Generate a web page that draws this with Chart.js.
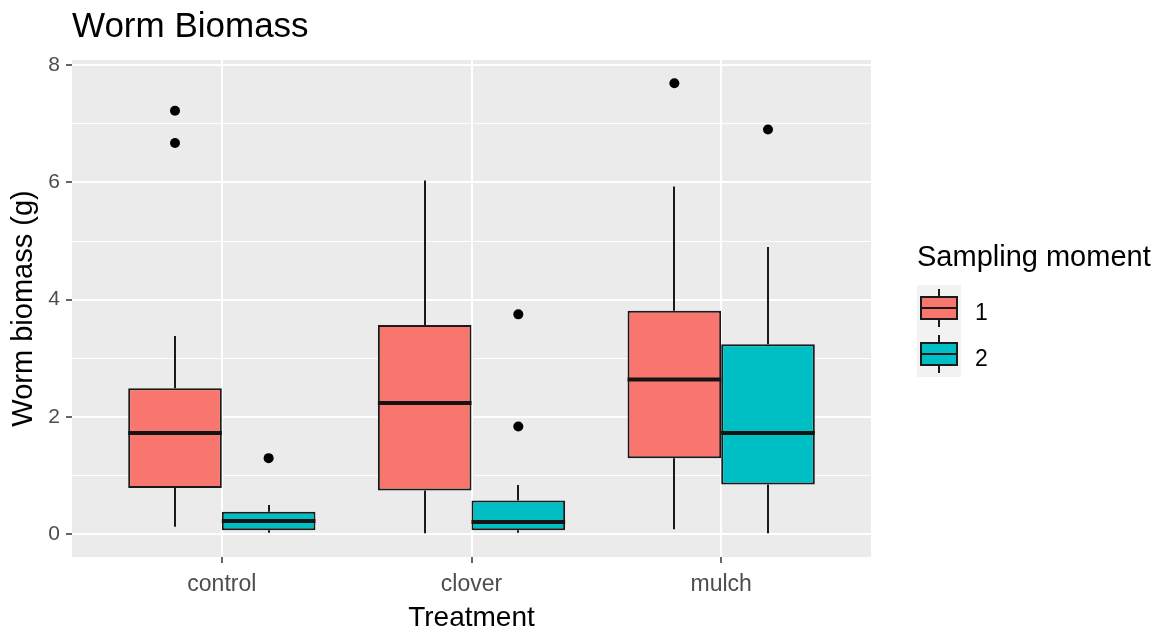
<!DOCTYPE html>
<html>
<head>
<meta charset="utf-8">
<title>Worm Biomass</title>
<script src="https://cdn.jsdelivr.net/npm/chart.js@4/dist/chart.umd.min.js"></script>
<style>
  html, body { margin: 0; padding: 0; background: #ffffff; }
  canvas { display: block; }
</style>
</head>
<body>
<canvas id="chart" width="1163" height="632"></canvas>
<script>
// Treatments on the x axis and the two sampling moments
const categories = ['control', 'clover', 'mulch'];
const sessions = ['1', '2'];

// Box statistics, sampling moment 1 (g)
const whiskerLow1 = [0.13, 0.02, 0.09];
const lowerQuartile1 = [0.79, 0.75, 1.30];
const median1 = [1.73, 2.24, 2.64];
const upperQuartile1 = [2.49, 3.57, 3.81];
const whiskerHigh1 = [3.38, 6.03, 5.93];
const outliers1 = [[7.22, 6.67], [], [7.69]];

// Box statistics, sampling moment 2 (g)
const whiskerLow2 = [0.03, 0.03, 0.02];
const lowerQuartile2 = [0.07, 0.07, 0.85];
const median2 = [0.23, 0.21, 1.73];
const upperQuartile2 = [0.385, 0.58, 3.24];
const whiskerHigh2 = [0.50, 0.84, 4.90];
const outliers2 = [[1.30], [3.75, 1.84], [6.90]];

// Y axis breaks
const yMajorTicks = [0, 2, 4, 6, 8];
const yMinorTicks = [1, 3, 5, 7];

const FONT = "'Liberation Sans', Arial, Helvetica, sans-serif";
const fills = ['#F8766D', '#00BFC4'];
const lineColor = '#1a1a1a';
const dodge = 0.75;              // total width of a dodged group, in category units
const boxOffset = dodge / 4;     // centre of each box relative to its category

Chart.defaults.font.family = FONT;

function boxDataset(k, low, q1, med, q3, high) {
  return {
    type: 'bar',
    label: sessions[k],
    data: categories.map((c, i) => ({ x: i + 1, y: [q1[i], q3[i]] })),
    stats: { low, med, high, q1, q3 },
    backgroundColor: fills[k],
    borderColor: lineColor,
    borderWidth: 2,
    borderSkipped: false,
    categoryPercentage: dodge,
    barPercentage: 1,
    order: 2
  };
}

function outlierPoints(list, k) {
  const shift = k === 0 ? -boxOffset : boxOffset;
  return list.flatMap((vals, i) => vals.map(v => ({ x: i + 1 + shift, y: v })));
}

// Panel background
const panelBackground = {
  id: 'panelBackground',
  beforeDraw(chart) {
    const { ctx, chartArea: a } = chart;
    ctx.save();
    ctx.fillStyle = '#EBEBEB';
    ctx.fillRect(a.left, a.top, a.right - a.left, a.bottom - a.top);
    ctx.restore();
  }
};

// Whiskers under the boxes, medians over them
const boxWhiskers = {
  id: 'boxWhiskers',
  beforeDatasetsDraw(chart) {
    const { ctx } = chart;
    const y = chart.scales.y;
    ctx.save();
    ctx.strokeStyle = lineColor;
    ctx.lineWidth = 2;
    chart.data.datasets.forEach((ds, di) => {
      if (!ds.stats) return;
      const meta = chart.getDatasetMeta(di);
      meta.data.forEach((bar, i) => {
        const x = Math.round(bar.x);
        ctx.beginPath();
        ctx.moveTo(x, y.getPixelForValue(ds.stats.q3[i]));
        ctx.lineTo(x, y.getPixelForValue(ds.stats.high[i]));
        ctx.moveTo(x, y.getPixelForValue(ds.stats.q1[i]));
        ctx.lineTo(x, y.getPixelForValue(ds.stats.low[i]));
        ctx.stroke();
      });
    });
    ctx.restore();
  },
  afterDatasetsDraw(chart) {
    const { ctx } = chart;
    const y = chart.scales.y;
    ctx.save();
    ctx.strokeStyle = '#141414';
    ctx.lineWidth = 4;
    chart.data.datasets.forEach((ds, di) => {
      if (!ds.stats) return;
      const meta = chart.getDatasetMeta(di);
      meta.data.forEach((bar, i) => {
        const py = y.getPixelForValue(ds.stats.med[i]);
        ctx.beginPath();
        ctx.moveTo(bar.x - bar.width / 2, py);
        ctx.lineTo(bar.x + bar.width / 2, py);
        ctx.stroke();
      });
    });
    ctx.restore();
  }
};

// Legend with boxplot keys
const boxLegend = {
  id: 'boxLegend',
  afterDraw(chart) {
    const { ctx } = chart;
    const left = 917, keyW = 44, keyH = 46, firstTop = 285;
    ctx.save();
    ctx.fillStyle = '#000';
    ctx.textAlign = 'left';
    ctx.textBaseline = 'alphabetic';
    ctx.font = `29px ${FONT}`;
    ctx.fillText('Sampling moment', left, 266);
    sessions.forEach((s, k) => {
      const top = firstTop + k * keyH;
      const cx = left + keyW / 2;
      const cy = top + keyH / 2;
      ctx.fillStyle = '#F2F2F2';
      ctx.fillRect(left, top, keyW, keyH);
      ctx.strokeStyle = lineColor;
      ctx.lineWidth = 2;
      ctx.beginPath();
      ctx.moveTo(Math.round(cx), cy - 19);
      ctx.lineTo(Math.round(cx), cy + 19);
      ctx.stroke();
      ctx.fillStyle = fills[k];
      ctx.fillRect(left + 4, cy - 11, keyW - 8, 22);
      ctx.strokeRect(left + 4, cy - 11, keyW - 8, 22);
      ctx.beginPath();
      ctx.moveTo(left + 4, cy);
      ctx.lineTo(left + keyW - 4, cy);
      ctx.stroke();
      ctx.fillStyle = '#000';
      ctx.font = `23px ${FONT}`;
      ctx.fillText(s, left + 58, cy + 12);
    });
    ctx.restore();
  }
};

const yTickList = yMajorTicks.map(v => ({ value: v, minor: false }))
  .concat(yMinorTicks.map(v => ({ value: v, minor: true })))
  .sort((a, b) => a.value - b.value);

new Chart(document.getElementById('chart'), {
  type: 'bar',
  data: {
    datasets: [
      boxDataset(0, whiskerLow1, lowerQuartile1, median1, upperQuartile1, whiskerHigh1),
      boxDataset(1, whiskerLow2, lowerQuartile2, median2, upperQuartile2, whiskerHigh2),
      {
        type: 'scatter',
        label: 'outliers',
        data: outlierPoints(outliers1, 0).concat(outlierPoints(outliers2, 1)),
        backgroundColor: '#000',
        borderWidth: 0,
        pointRadius: 5,
        pointHoverRadius: 5,
        order: 1
      }
    ]
  },
  options: {
    responsive: false,
    animation: false,
    devicePixelRatio: 1,
    events: [],
    layout: { padding: { left: 0, right: 292, top: 0, bottom: 0 } },
    plugins: {
      legend: { display: false },
      tooltip: { enabled: false },
      title: {
        display: true,
        text: 'Worm Biomass',
        align: 'start',
        fullSize: false,
        color: '#000',
        font: { size: 35, weight: 'normal', lineHeight: 1.2 },
        padding: { top: 6, bottom: 12 }
      }
    },
    scales: {
      x: {
        type: 'linear',
        min: 0.4,
        max: 3.6,
        offset: false,
        afterBuildTicks: s => { s.ticks = categories.map((c, i) => ({ value: i + 1 })); },
        afterFit: s => { s.height = 75; },
        ticks: {
          callback: v => categories[v - 1],
          color: '#4D4D4D',
          font: { size: 23 },
          padding: 8,
          autoSkip: false,
          maxRotation: 0
        },
        grid: { offset: false, color: '#FFFFFF', lineWidth: 2, tickColor: '#333333', tickLength: 6, tickWidth: 1.5 },
        border: { display: false },
        title: {
          display: true,
          text: 'Treatment',
          color: '#000',
          font: { size: 28, lineHeight: 1 },
          padding: { top: 0, bottom: 0 }
        }
      },
      y: {
        type: 'linear',
        min: -0.385,
        max: 8.085,
        afterBuildTicks: s => { s.ticks = yTickList.map(t => ({ value: t.value, minor: t.minor })); },
        afterFit: s => { s.width = 72; },
        ticks: {
          callback: (v, i, ticks) => (ticks[i] && ticks[i].minor ? '' : String(v)),
          color: '#4D4D4D',
          font: { size: 21 },
          padding: 6,
          autoSkip: false
        },
        grid: {
          color: '#FFFFFF',
          lineWidth: c => (c.tick && c.tick.minor ? 1 : 2),
          tickColor: c => (c.tick && c.tick.minor ? 'rgba(0,0,0,0)' : '#333333'),
          tickLength: 6,
          tickWidth: 1.5
        },
        border: { display: false },
        title: {
          display: true,
          text: 'Worm biomass (g)',
          color: '#000',
          font: { size: 29, lineHeight: 1 },
          padding: { top: 9.5, bottom: 0 }
        }
      }
    }
  },
  plugins: [panelBackground, boxWhiskers, boxLegend]
});
</script>
</body>
</html>
